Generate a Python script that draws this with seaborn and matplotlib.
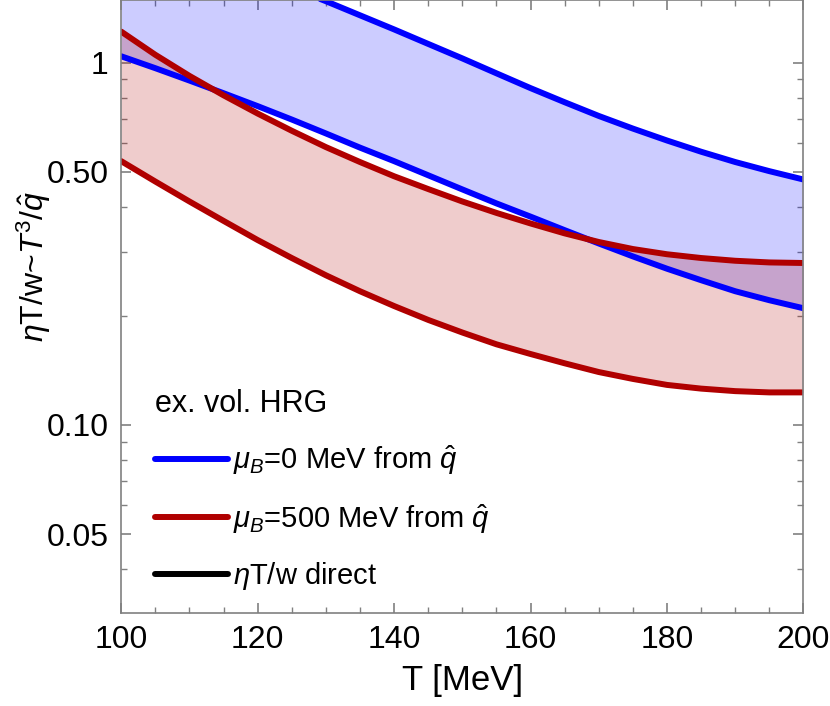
import matplotlib
matplotlib.use('Agg')
import matplotlib.pyplot as plt
import numpy as np
import pandas as pd
import seaborn as sns
from matplotlib.lines import Line2D
from matplotlib.ticker import FixedLocator, FixedFormatter, LogLocator, MultipleLocator, NullFormatter

T = [100, 105, 110, 115, 120, 125, 130, 135, 140, 145, 150,
     155, 160, 165, 170, 175, 180, 185, 190, 195, 200]

# mu_B = 0 band (blue)
blue_lo = [1.042, 0.966, 0.893, 0.824, 0.759, 0.697, 0.638, 0.583, 0.535, 0.489, 0.447,
           0.409, 0.376, 0.345, 0.317, 0.292, 0.270, 0.251, 0.234, 0.221, 0.210]
blue_hi = [2.50, 2.29, 2.10, 1.92, 1.76, 1.61, 1.479, 1.352, 1.236, 1.127, 1.028,
           0.935, 0.851, 0.778, 0.713, 0.658, 0.610, 0.568, 0.532, 0.502, 0.476]

# mu_B = 500 MeV band (red)
red_hi = [1.219, 1.052, 0.920, 0.813, 0.724, 0.649, 0.585, 0.532, 0.486, 0.448, 0.414,
          0.385, 0.360, 0.338, 0.320, 0.306, 0.296, 0.289, 0.284, 0.281, 0.280]
red_lo = [0.535, 0.470, 0.414, 0.366, 0.324, 0.289, 0.259, 0.234, 0.213, 0.195, 0.180,
          0.167, 0.157, 0.148, 0.140, 0.134, 0.129, 0.126, 0.124, 0.123, 0.123]

df = pd.DataFrame({'T': T, 'blue_lo': blue_lo, 'blue_hi': blue_hi,
                   'red_lo': red_lo, 'red_hi': red_hi})

y_ticks = [0.05, 0.10, 0.50, 1]
y_ticklabels = ['0.05', '0.10', '0.50', '1']

sns.set_style('ticks')
plt.rcParams['font.family'] = ['Liberation Sans', 'DejaVu Sans']
plt.rcParams['mathtext.fontset'] = 'custom'
plt.rcParams['mathtext.rm'] = 'Liberation Sans'
plt.rcParams['mathtext.it'] = 'Liberation Sans:italic'
plt.rcParams['text.color'] = 'black'
plt.rcParams['axes.labelcolor'] = 'black'
plt.rcParams['xtick.labelcolor'] = 'black'
plt.rcParams['ytick.labelcolor'] = 'black'

blue = '#0000FF'
red = '#B00000'
lw = 4.3

fig = plt.figure(figsize=(8.3, 7.06), dpi=100)
ax = fig.add_axes([0.146, 0.132, 0.822, 0.868])

ax.fill_between(df['T'], df['blue_lo'], df['blue_hi'], color=blue, alpha=0.2, lw=0)
ax.fill_between(df['T'], df['red_lo'], df['red_hi'], color=red, alpha=0.2, lw=0)
for col in ['blue_lo', 'blue_hi']:
    sns.lineplot(data=df, x='T', y=col, color=blue, lw=lw, ax=ax, legend=False)
for col in ['red_lo', 'red_hi']:
    sns.lineplot(data=df, x='T', y=col, color=red, lw=lw, ax=ax, legend=False)

ax.set_yscale('log')
ax.set_xlim(100, 200)
ax.set_ylim(0.0303, 1.49)
ax.yaxis.set_major_locator(FixedLocator(y_ticks))
ax.yaxis.set_major_formatter(FixedFormatter(y_ticklabels))
ax.yaxis.set_minor_locator(LogLocator(base=10, subs=np.arange(2, 10)))
ax.yaxis.set_minor_formatter(NullFormatter())
ax.xaxis.set_major_locator(MultipleLocator(20))
ax.xaxis.set_minor_locator(MultipleLocator(5))

for s in ax.spines.values():
    s.set_color('#808080')
    s.set_linewidth(1.2)
ax.tick_params(which='both', direction='in', top=True, right=True, color='#808080',
               labelsize=23, pad=9)
ax.tick_params(which='major', length=7, width=1.2)
ax.tick_params(which='minor', length=4, width=1.0)

ax.set_xlabel('T [MeV]', fontsize=25, labelpad=6)
ax.set_ylabel(r'$\eta$T/w~$T^3/\hat{q}$', fontsize=23)
ax.yaxis.set_label_coords(-0.1, 0.565)

handles = [Line2D([], [], color=blue, lw=lw),
           Line2D([], [], color=red, lw=lw),
           Line2D([], [], color='black', lw=lw)]
labels = [r'$\mu_B$=0 MeV from $\hat{q}$',
          r'$\mu_B$=500 MeV from $\hat{q}$',
          r'$\eta$T/w direct']
leg = ax.legend(handles, labels, title='ex. vol. HRG', loc='lower left',
                bbox_to_anchor=(0.02, 0.0), frameon=False, fontsize=21,
                title_fontsize=22, handlelength=2.5, labelspacing=0.85,
                handletextpad=0.15, borderaxespad=0.3)
leg._legend_box.align = 'left'

fig.savefig('out.png', dpi=100)
